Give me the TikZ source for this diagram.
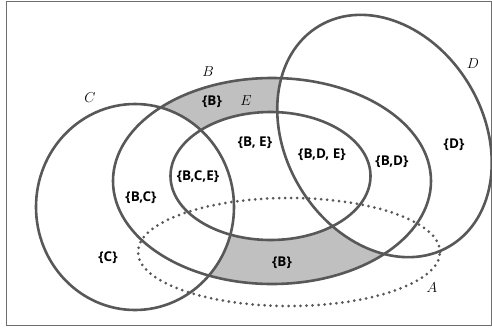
\documentclass[tikz,border=0pt]{standalone}
\usepackage{fontspec}
\setsansfont{Open Sans}
\usepackage{tikz}
\usetikzlibrary{positioning}
\definecolor{rimgray}{RGB}{88, 88, 88}
\definecolor{fillgray}{RGB}{192, 192, 192}
\definecolor{framegray}{RGB}{110, 110, 110}

\begin{document}
\begin{tikzpicture}[
    x=1pt, y=1pt,
    setline/.style={draw=rimgray, line width=2.6pt},
    dotline/.style={draw=rimgray, line width=3pt, line cap=round, dash pattern=on 0pt off 6pt},
    region/.style={font=\sffamily\bfseries\fontsize{13.5}{15}\selectfont, text=black, inner sep=0pt},
    setname/.style={font=\fontsize{14.5}{16}\selectfont, text=black, inner sep=0pt}
]
% frame and bounding box
\useasboundingbox (0,0) rectangle (492,-330);
\draw[framegray, line width=1pt] (6,-1.5) rectangle (491,-325);

% centres of the sets
\coordinate (cA) at (289,-252);
\coordinate (cB) at (272,-181);
\coordinate (cC) at (135,-207);
\coordinate (cD) at (384.5,-136);
\coordinate (cE) at (270.5,-176);

% shaded part: B without C, D and E
\fill[fillgray] (cB) ellipse [x radius=159, y radius=103];
\fill[white] (cE) ellipse [x radius=100, y radius=64];
\fill[white] (cC) ellipse [x radius=99, y radius=103];
\fill[white, rotate around={30.6:(cD)}] (cD) ellipse [x radius=99, y radius=128];

% outlines
\draw[setline] (cB) ellipse [x radius=159, y radius=103];
\draw[setline] (cE) ellipse [x radius=100, y radius=64];
\draw[setline] (cC) ellipse [x radius=99, y radius=103];
\draw[setline, rotate around={30.6:(cD)}] (cD) ellipse [x radius=99, y radius=128];
\draw[dotline] (cA) ellipse [x radius=151, y radius=54];

% set names
\node[setname] (nameB) at (208,-72) {$B$};
\node[setname] (nameC) at (90,-98) {$C$};
\node[setname] (nameD) at (473,-64) {$D$};
\node[setname] (nameE) at (246,-101) {$E$};
\node[setname] (nameA) at (432,-288) {$A$};

% region labels
\node[region] (topB) at (212,-102) {\{B\}};
\node[region] (BE) at (255,-143) {\{B, E\}};
\node[region] (BDE) at (322,-155) {\{B,D, E\}};
\node[region] (BD) at (392,-162) {\{B,D\}};
\node[region] (onlyD) at (454,-145) {\{D\}};
\node[region] (BCE) at (198,-177) {\{B,C,E\}};
\node[region] (BC) at (141,-198) {\{B,C\}};
\node[region] (onlyC) at (108,-258) {\{C\}};
\node[region] (lowB) at (282,-263) {\{B\}};
\end{tikzpicture}
\end{document}
